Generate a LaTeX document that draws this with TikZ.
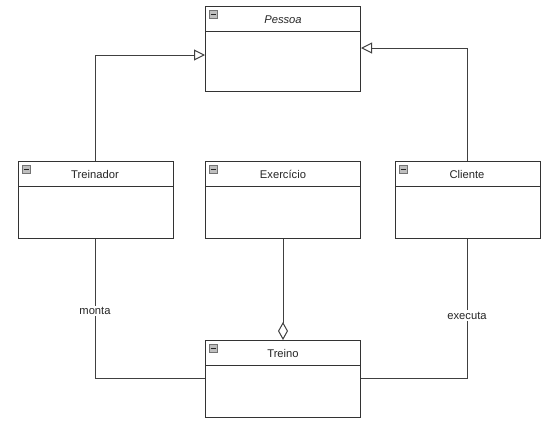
\documentclass[tikz,border=0pt]{standalone}
\usepackage{fontspec}
\setmainfont{Liberation Sans}
\usetikzlibrary{arrows.meta}
\begin{document}
\begin{tikzpicture}[x=1pt,y=-1pt,
  cls/.style={draw=black!80, line width=1pt, fill=white, minimum width=155pt, minimum height=77pt, inner sep=0pt},
  lbl/.style={font=\fontsize{11.2}{13}\selectfont, text=black!85},
  conn/.style={draw=black!75, line width=1pt},
  inh/.style={conn, -{Triangle[open, length=11pt, width=11pt]}},
  agg/.style={conn, -{Diamond[open, length=18pt, width=10pt]}},
  icon/.style={draw=black!55, fill=black!25, line width=0.5pt, minimum size=7.5pt, inner sep=0pt}
]
\useasboundingbox (0,0) rectangle (547,426);
% classes
\node[cls, minimum height=85pt, anchor=north west] (pessoa) at (205,6) {};
\node[cls, anchor=north west] (treinador) at (18,161) {};
\node[cls, anchor=north west] (exercicio) at (205,161) {};
\node[cls, minimum width=145pt, anchor=north west] (cliente) at (395,161) {};
\node[cls, anchor=north west] (treino) at (205,340) {};
% header dividers
\draw[draw=black!80, line width=1pt] (205,31) -- (360,31);
\draw[draw=black!80, line width=1pt] (18,186) -- (173,186);
\draw[draw=black!80, line width=1pt] (205,186) -- (360,186);
\draw[draw=black!80, line width=1pt] (395,186) -- (540,186);
\draw[draw=black!80, line width=1pt] (205,365) -- (360,365);
% titles
\node[lbl] (tpessoa) at (283,19.5) {\itshape Pessoa};
\node[lbl] (ttreinador) at (95,174.5) {Treinador};
\node[lbl] (texercicio) at (283,174.5) {Exercício};
\node[lbl] (tcliente) at (467,174.5) {Cliente};
\node[lbl] (ttreino) at (283,353.5) {Treino};
% icons
\foreach \n/\x/\y in {ipessoa/213/14, itreinador/26/169, iexercicio/213/169, icliente/403/169, itreino/213/348}{
  \node[icon] (\n) at (\x,\y) {};
  \draw[black!85, line width=0.8pt] ([xshift=1.5pt]\n.west) -- ([xshift=-1.5pt]\n.east);
}
% inheritance
\coordinate (c1) at (95,55);
\coordinate (c2) at (467,48);
\draw[inh] (treinador.north -| c1) -- (c1) -- (c1 -| pessoa.west);
\draw[inh] (cliente.north -| c2) -- (c2) -- (c2 -| pessoa.east);
% aggregation
\draw[agg] (exercicio.south) -- (treino.north);
% associations
\coordinate (c3) at (95,378);
\coordinate (c4) at (467,378);
\draw[conn] (treinador.south -| c3) -- node[lbl, fill=white, inner sep=1.5pt, pos=0.52] (lmonta) {monta} (c3) -- (c3 -| treino.west);
\draw[conn] (cliente.south -| c4) -- node[lbl, fill=white, inner sep=1.5pt, pos=0.55] (lexecuta) {executa} (c4) -- (c4 -| treino.east);
\end{tikzpicture}
\end{document}
